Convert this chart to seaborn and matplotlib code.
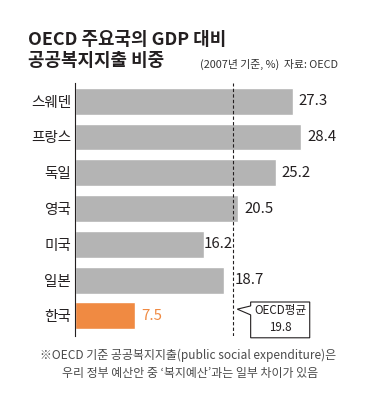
import matplotlib
matplotlib.use("Agg")
import matplotlib.pyplot as plt
from matplotlib.patches import Polygon
import pandas as pd
import seaborn as sns

countries = ["스웨덴", "프랑스", "독일", "영국", "미국", "일본", "한국"]
spending = [27.3, 28.4, 25.2, 20.5, 16.2, 18.7, 7.5]
oecd_avg = 19.8
highlight = "한국"

title_lines = ["OECD 주요국의 GDP 대비", "공공복지지출 비중"]
subtitle = "(2007년 기준, %)  자료: OECD"
note_lines = ["※OECD 기준 공공복지지출(public social expenditure)은",
              "우리 정부 예산안 중 ‘복지예산’과는 일부 차이가 있음"]

GRAY = "#b4b4b4"
ORANGE = "#f08a42"
INK = "#231f20"

sns.set_theme(style="white")
plt.rcParams['font.family'] = ['Noto Sans CJK KR', 'DejaVu Sans']

df = pd.DataFrame({"country": countries, "value": spending})
palette = {c: (ORANGE if c == highlight else GRAY) for c in countries}

W, H = 372, 408
fig = plt.figure(figsize=(W / 100, H / 100), dpi=100)
fig.patch.set_facecolor("white")

# axes placed in pixel terms: zero line at x=75, plot from y=83 to 336
ax_left, ax_top, ax_bottom, ax_right = 75.3, 82.7, 336.0, 360.0
ax = fig.add_axes([ax_left / W, (H - ax_bottom) / H,
                   (ax_right - ax_left) / W, (ax_bottom - ax_top) / H])

sns.barplot(df, x="value", y="country", hue="country", palette=palette,
            legend=False, width=0.754, saturation=1, ax=ax, zorder=2)

px_per_unit = 7.96
ax.set_xlim(0, (ax_right - ax_left) / px_per_unit)
ax.set_ylim(6.56, -0.517)

ax.axvline(oecd_avg, color=INK, linestyle=(0, (3, 2)), linewidth=0.8, zorder=3)

for s in ["top", "right", "bottom"]:
    ax.spines[s].set_visible(False)
ax.spines["left"].set_color(INK)
ax.spines["left"].set_linewidth(0.8)
ax.set_xticks([])
ax.set_xlabel("")
ax.set_ylabel("")
ax.tick_params(axis="y", length=0, pad=3, labelsize=10.5, labelcolor=INK)

# value labels (points offset from bar end)
label_offset = {"미국": -0.5, "일본": 7.5}
for i, (c, v) in enumerate(zip(countries, spending)):
    ax.annotate(f"{v}", xy=(v, i), xytext=(label_offset.get(c, 4.2), 0),
                textcoords="offset points", va="center", ha="left",
                fontsize=10.8, color=ORANGE if c == highlight else INK)

# OECD average callout balloon
bx0, bx1 = oecd_avg + 2.23, oecd_avg + 9.65
by0, by1 = 5.61, 6.61
balloon = Polygon([(bx0, by0), (bx1, by0), (bx1, by1), (bx0, by1),
                   (bx0, 5.97), (oecd_avg + 0.55, 5.81), (bx0, 5.72)],
                  closed=True, facecolor="white", edgecolor=INK,
                  linewidth=0.8, clip_on=False, zorder=4)
ax.add_patch(balloon)
ax.text((bx0 + bx1) / 2, 5.86, "OECD평균", ha="center", va="center",
        fontsize=8.4, color=INK, zorder=5)
ax.text((bx0 + bx1) / 2, 6.33, f"{oecd_avg}", ha="center", va="center",
        fontsize=8.4, color=INK, zorder=5)

# titles and notes
fig.text(28 / W, 1 - 40 / H, title_lines[0], ha="left", va="center",
         fontsize=12.9, fontweight="bold", color=INK)
fig.text(28 / W, 1 - 61.5 / H, title_lines[1], ha="left", va="center",
         fontsize=12.9, fontweight="bold", color=INK)
fig.text(338 / W, 1 - 64 / H, subtitle, ha="right", va="center",
         fontsize=7.8, color="#333333")
fig.text(188 / W, 1 - 355 / H, note_lines[0], ha="center", va="center",
         fontsize=8.6, color="#4a4a4a")
fig.text(190 / W, 1 - 373 / H, note_lines[1], ha="center", va="center",
         fontsize=8.6, color="#4a4a4a")

fig.savefig("out.png", dpi=100, facecolor="white")
